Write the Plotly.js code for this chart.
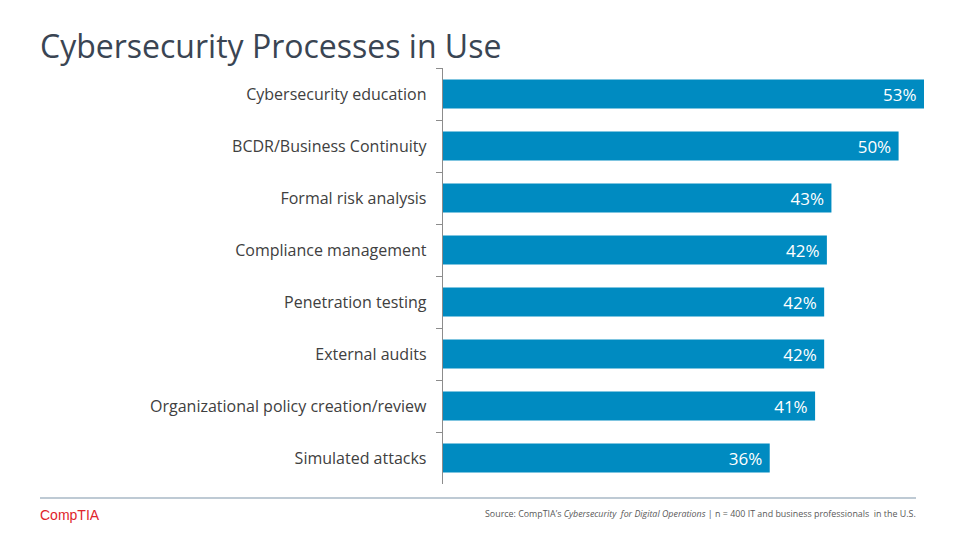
<!DOCTYPE html>
<html><head><meta charset="utf-8">
<script src="https://cdn.plot.ly/plotly-3.0.1.min.js"></script>
<style>html,body{margin:0;padding:0;background:#fff;}#chart{width:960px;height:540px;}</style>
</head><body><div id="chart"></div>
<script>
const categories = ["Cybersecurity education","BCDR/Business Continuity","Formal risk analysis","Compliance management","Penetration testing","External audits","Organizational policy creation/review","Simulated attacks"];
const values = [53, 50.2, 42.8, 42.3, 42.0, 42.0, 41.0, 36.0];
const labels = ["53%","50%","43%","42%","42%","42%","41%","36%"];

const font = "'Segoe UI', 'Open Sans', 'Noto Sans', sans-serif";
const W = 481, H = 416, L = 443, T = 68;
const px = x => (x - L) / W;
const py = y => 1 - (y - T) / H;
const trace = {
  type: 'bar', orientation: 'h',
  x: values, y: categories, text: labels.map(s => s + '\u00a0'),
  textposition: 'inside', insidetextanchor: 'end',
  textfont: {color: '#ffffff', size: 17, family: font},
  marker: {color: '#008BC1'},
  hoverinfo: 'none', cliponaxis: false
};
const layout = {
  width: 960, height: 540,
  margin: {l: L, r: 36, t: T, b: 56},
  paper_bgcolor: '#fff', plot_bgcolor: '#fff',
  bargap: 0.44,
  showlegend: false,
  xaxis: {range: [0, 53], visible: false, fixedrange: true},
  yaxis: {autorange: 'reversed', showline: true, linecolor: '#8C8C8C', linewidth: 1.3,
    ticks: 'outside', ticklen: 6, tickcolor: '#8C8C8C', tickson: 'boundaries',
    showgrid: false, zeroline: false, ticklabelstandoff: 12,
    tickfont: {size: 16, color: '#404040', family: font}},
  annotations: [
    {xref: 'paper', yref: 'paper', x: px(38), y: py(45), xanchor: 'left', yanchor: 'middle',
     text: 'Cybersecurity Processes in Use', showarrow: false,
     font: {size: 32, color: '#3A4553', family: font}},
    {xref: 'paper', yref: 'paper', x: px(38), y: py(515), xanchor: 'left', yanchor: 'middle',
     text: 'CompTIA', showarrow: false,
     font: {size: 14, color: '#E0242B', family: "'Liberation Sans', Arial, sans-serif"}},
    {xref: 'paper', yref: 'paper', x: px(918), y: py(513), xanchor: 'right', yanchor: 'middle',
     text: "Source: CompTIA’s <i>Cybersecurity  for Digital Operations</i> | n = 400 IT and business professionals  in the U.S.",
     showarrow: false, font: {size: 8.9, color: '#595959', family: font}}
  ],
  shapes: [
    {type: 'line', xref: 'paper', yref: 'paper', x0: px(40), x1: px(916), y0: py(498), y1: py(498),
     line: {color: '#A9B8C6', width: 1.3}}
  ]
};
Plotly.newPlot('chart', [trace], layout, {displayModeBar: false, staticPlot: true});
</script></body></html>
